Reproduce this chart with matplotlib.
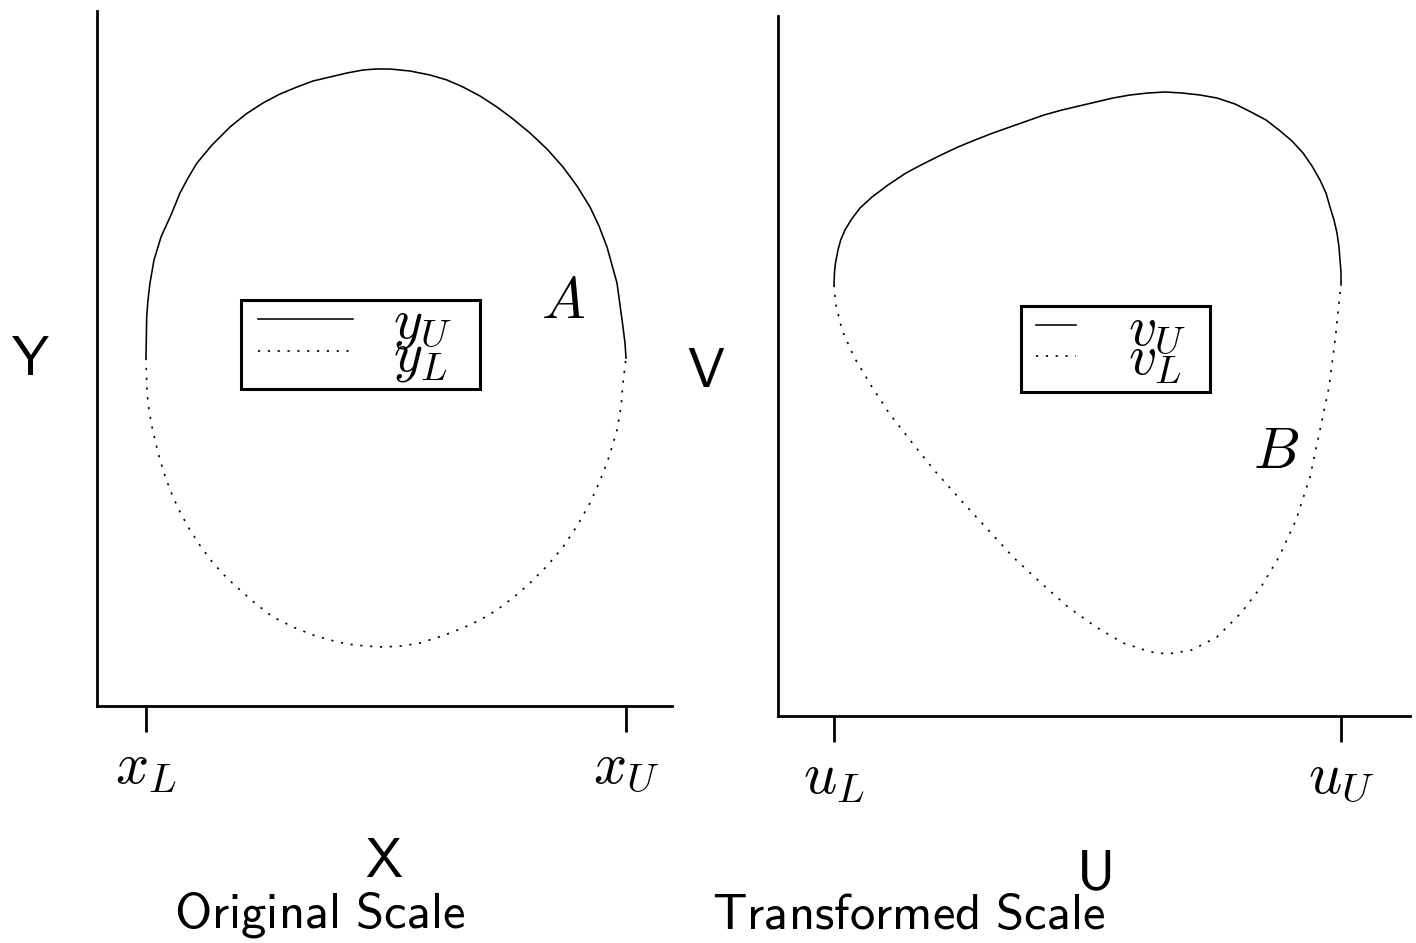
import matplotlib
matplotlib.use("Agg")
import matplotlib.pyplot as plt
from matplotlib.path import Path
from matplotlib.lines import Line2D
from matplotlib.legend_handler import HandlerLine2D

plt.rcParams['mathtext.fontset'] = 'cm'
plt.rcParams['font.family'] = ['DejaVu Sans']

# ---------------- data (arbitrary units) ----------------
# Original scale: region A
x_upper = [49, 49.7, 51, 53, 57, 64, 74, 83, 91, 100, 115, 133, 149, 166, 183,
           200, 216, 233, 250, 266, 279, 293, 313, 333, 350, 366, 383, 400, 416,
           433, 450, 466, 480, 493, 502, 510, 515, 520, 523, 526, 528, 529]
y_upper = [348, 389, 406, 423, 446, 469, 491, 513, 528, 543, 561, 579, 592, 603, 612,
           619, 625, 629, 633, 636, 637, 637, 635, 631, 626, 619, 610, 599, 587,
           573, 557, 539, 520, 499, 480, 459, 441, 423, 401, 379, 363, 348]
x_lower = [49, 50, 52, 55, 59, 63, 69, 76, 84, 93, 104, 116, 129, 143, 159, 176,
           196, 216, 233, 250, 268, 286, 305, 323, 345, 366, 383, 400, 417, 433,
           450, 466, 480, 493, 502, 510, 515, 520, 524, 526, 529]
y_lower = [348, 313, 296, 279, 262, 246, 227, 209, 192, 176, 159, 143, 129, 116, 102, 89,
           79, 71, 66, 62, 60, 59, 60, 63, 70, 78, 86, 96, 109, 123,
           140, 159, 180, 203, 223, 243, 259, 276, 299, 323, 348]
x_ticks = [49, 529]
x_ticklabels = [r'$x_L$', r'$x_U$']

# Transformed scale: region B
u_upper = [56, 56.5, 57.5, 60, 62.7, 67, 73, 82, 94, 110, 128, 145, 163, 180, 197,
           215, 232, 249, 266, 284, 301, 318, 335, 352, 370, 387, 404, 422, 439,
           457, 473, 488, 501, 514, 525, 534, 542, 548, 552, 556, 559, 561, 562,
           563, 563]
v_upper = [431, 444, 453, 466, 476, 486, 496, 508, 519, 531, 543, 552, 561, 569, 576,
           583, 589, 595, 601, 606, 610, 614, 618, 621, 623, 624, 623, 621, 618,
           612, 604, 596, 586, 575, 563, 550, 536, 523, 509, 496, 483, 469, 456,
           444, 431]
u_lower = [56, 57.5, 64, 76, 94, 111, 132, 156, 180, 207.5, 235, 263, 290, 318,
           345, 373, 390, 414, 439, 463, 483, 501, 518, 532, 542, 551, 557.5, 561, 563]
v_lower = [431, 413, 386, 359, 329, 303, 276, 246, 219, 189, 159, 133, 109, 89,
           73, 64, 62, 66, 79, 103, 129, 159, 196, 239, 286, 329, 379, 413, 431]
u_ticks = [56, 563]
u_ticklabels = [r'$u_L$', r'$u_U$']

label_A = (466, 404)
label_B = (498, 264)

# ---------------- figure ----------------
W, H, DPI = 1416, 943, 100
fig = plt.figure(figsize=(W / DPI, H / DPI), dpi=DPI)


def add_ax(l, r, t, b):
    return fig.add_axes([l / W, (H - b) / H, (r - l) / W, (b - t) / H])


ax1 = add_ax(97, 672, 11, 706)
ax2 = add_ax(778, 1410, 16, 716)

ax1.set_xlim(0, 575)
ax1.set_ylim(0, 695)
ax2.set_xlim(0, 632)
ax2.set_ylim(0, 700)

dot_style = dict(color='black', lw=1.2, linestyle=(0, (1.3, 4.6)))
solid_style = dict(color='black', lw=1.15, linestyle='-')

ax1.plot(x_upper, y_upper, label=r'$y_U$', **solid_style)
ax1.plot(x_lower, y_lower, label=r'$y_L$', **dot_style)
ax2.plot(u_upper, v_upper, label=r'$v_U$', **solid_style)
ax2.plot(u_lower, v_lower, label=r'$v_L$', **dot_style)

ax1.text(*label_A, r'$A$', fontsize=42, ha='center', va='center')
ax2.text(*label_B, r'$B$', fontsize=42, ha='center', va='center')

for ax, ticks, labels in [(ax1, x_ticks, x_ticklabels), (ax2, u_ticks, u_ticklabels)]:
    for s in ['top', 'right']:
        ax.spines[s].set_visible(False)
    for s in ['left', 'bottom']:
        ax.spines[s].set_linewidth(2.0)
    ax.set_xticks(ticks)
    ax.set_xticklabels(labels, fontsize=42)
    ax.set_yticks([])
    ax.tick_params(axis='x', direction='out', length=19, width=2.0, pad=4)

ax1.set_xlabel(r'$\mathsf{X}$', fontsize=40)
ax1.xaxis.set_label_coords(0.5, -0.185)
ax1.set_ylabel(r'$\mathsf{Y}$', fontsize=40, rotation=0, ha='center', va='center')
ax1.yaxis.set_label_coords(-0.1165, 0.498)

ax2.set_xlabel(r'$\mathsf{U}$', fontsize=40)
ax2.xaxis.set_label_coords(0.5, -0.188)
ax2.set_ylabel(r'$\mathsf{V}$', fontsize=40, rotation=0, ha='center', va='center')
ax2.yaxis.set_label_coords(-0.114, 0.491)


def frame_style(left, right, top, bottom):
    """Rectangular legend frame with separate paddings (in font-size units)."""
    def box(x0, y0, width, height, mutation_size):
        m = mutation_size
        xa, xb = x0 - left * m, x0 + width + right * m
        ya, yb = y0 - bottom * m, y0 + height + top * m
        return Path([(xa, ya), (xb, ya), (xb, yb), (xa, yb), (xa, ya)], closed=True)
    return box


leg_common = dict(loc='upper left', fontsize=40, frameon=True, fancybox=False,
                  framealpha=1, edgecolor='black', borderaxespad=0,
                  labelspacing=-0.42, borderpad=0.0,
                  handler_map={Line2D: HandlerLine2D()})
leg1 = ax1.legend(bbox_to_anchor=(0.28, 0.59), handlelength=1.71,
                  handletextpad=0.72, **leg_common)
leg2 = ax2.legend(bbox_to_anchor=(0.408, 0.591), handlelength=0.72,
                  handletextpad=0.94, **leg_common)
leg1.legendPatch.set_boxstyle(frame_style(0.31, 0.5, -0.07, 0.09))
leg2.legendPatch.set_boxstyle(frame_style(0.27, 0.43, -0.07, 0.09))
for leg in (leg1, leg2):
    leg.get_frame().set_linewidth(2.2)

fig.text(320 / W, 1 - 915 / H, r'$\mathsf{Original\ Scale}$', fontsize=36.5,
         ha='center', va='center')
fig.text(909 / W, 1 - 915 / H, r'$\mathsf{Transformed\ Scale}$', fontsize=36.5,
         ha='center', va='center')

fig.savefig('out.png', dpi=DPI)
